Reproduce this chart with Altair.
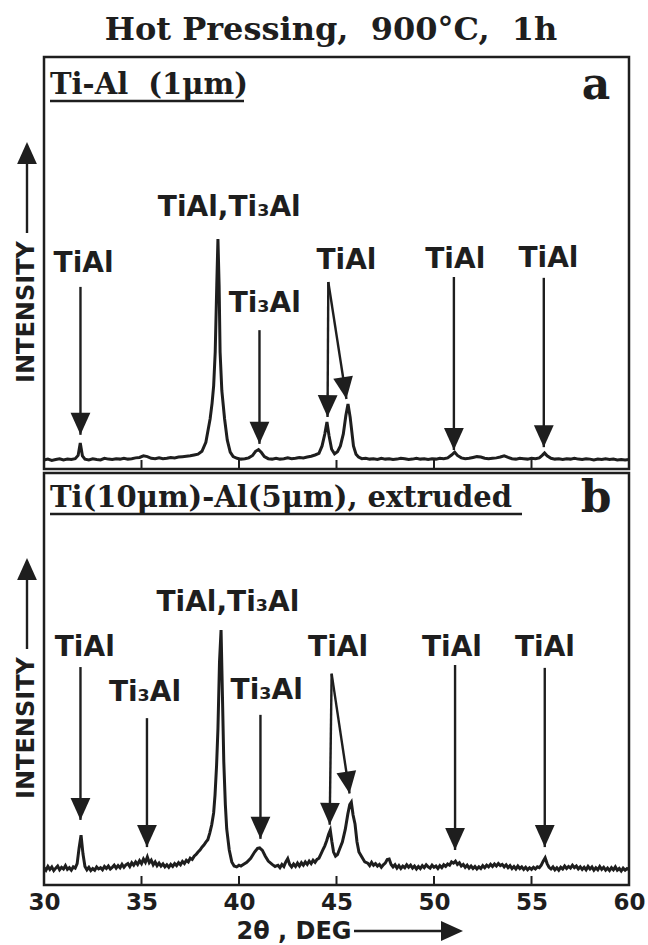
import math
import altair as alt
import pandas as pd

# ---------------- layout constants ----------------
W, H = 585, 412
INK = "#1e1e1e"
X_DOMAIN = [30, 60]
Y_DOMAIN = [0, 100]

# ---------------- data ----------------
tick_values = [35, 40, 45, 50, 55]
tick_labels = [30, 35, 40, 45, 50, 55, 60]

# panel a : Ti-Al (1um)  (2theta [deg], intensity [a.u.])
a_trace = [
    (30.0, 2.2), (30.2, 2.4), (30.4, 2.1), (30.6, 2.3), (30.8, 2.5), (31.0, 2.2),
    (31.2, 2.4), (31.4, 2.3), (31.6, 2.5), (31.75, 3.3), (31.86, 6.3), (31.97, 3.2),
    (32.1, 2.4), (32.3, 2.2), (32.5, 2.5), (32.7, 2.3), (32.9, 2.2), (33.1, 2.6),
    (33.3, 2.4), (33.5, 2.3), (33.7, 2.5), (33.9, 2.4), (34.1, 2.6), (34.3, 2.4),
    (34.5, 2.5), (34.7, 2.7), (34.9, 2.8), (35.1, 3.2), (35.3, 3.0), (35.5, 2.6),
    (35.7, 2.5), (35.9, 2.7), (36.1, 2.5), (36.3, 2.6), (36.5, 2.8), (36.7, 2.7),
    (36.9, 2.9), (37.1, 3.0), (37.3, 3.1), (37.5, 3.2), (37.7, 3.4), (37.9, 3.6),
    (38.1, 4.3), (38.3, 6.5), (38.52, 12.2), (38.62, 16.0), (38.7, 20.2),
    (38.78, 28.4), (38.86, 44.6), (38.92, 55.8), (38.98, 44.6), (39.03, 28.4),
    (39.12, 19.0), (39.26, 12.2), (39.4, 7.0), (39.55, 4.1), (39.7, 3.0),
    (39.9, 2.6), (40.1, 2.4), (40.3, 2.5), (40.5, 2.7), (40.7, 3.3), (40.85, 4.3),
    (41.0, 4.7), (41.15, 4.0), (41.3, 3.0), (41.5, 2.5), (41.7, 2.4), (41.9, 2.6),
    (42.1, 2.4), (42.3, 2.5), (42.5, 2.7), (42.7, 2.5), (42.9, 2.6), (43.1, 2.8),
    (43.3, 2.7), (43.5, 2.9), (43.7, 3.1), (43.9, 3.4), (44.1, 3.8), (44.26, 5.6),
    (44.4, 8.5), (44.51, 11.4), (44.62, 8.0), (44.75, 4.8), (44.9, 3.7), (45.05, 4.2),
    (45.2, 5.6), (45.35, 8.5), (45.48, 13.0), (45.59, 15.8), (45.7, 12.6), (45.87, 5.6),
    (46.0, 3.6), (46.13, 2.9), (46.3, 2.5), (46.5, 2.6), (46.7, 2.4), (46.9, 2.5),
    (47.1, 2.3), (47.3, 2.6), (47.5, 2.4), (47.7, 2.5), (47.9, 2.3), (48.1, 2.4),
    (48.3, 2.6), (48.5, 2.5), (48.7, 2.3), (48.9, 2.4), (49.1, 2.6), (49.3, 2.4),
    (49.5, 2.5), (49.7, 2.3), (49.9, 2.5), (50.1, 2.4), (50.3, 2.6), (50.5, 2.5),
    (50.7, 2.7), (50.9, 3.4), (51.06, 4.1), (51.2, 3.3), (51.4, 2.7), (51.6, 2.5),
    (51.8, 2.6), (52.0, 2.8), (52.2, 3.0), (52.4, 2.9), (52.6, 2.6), (52.8, 2.5),
    (53.0, 2.6), (53.2, 2.7), (53.4, 2.9), (53.6, 3.2), (53.8, 2.8), (54.0, 2.5),
    (54.2, 2.4), (54.4, 2.6), (54.6, 2.5), (54.8, 2.4), (55.0, 2.6), (55.2, 2.5),
    (55.4, 2.7), (55.55, 3.3), (55.67, 3.9), (55.8, 3.2), (56.0, 2.6), (56.2, 2.4),
    (56.4, 2.5), (56.6, 2.3), (56.8, 2.5), (57.0, 2.4), (57.2, 2.6), (57.4, 2.4),
    (57.6, 2.3), (57.8, 2.5), (58.0, 2.4), (58.2, 2.2), (58.4, 2.4), (58.6, 2.3),
    (58.8, 2.5), (59.0, 2.3), (59.2, 2.4), (59.4, 2.2), (59.6, 2.3), (59.8, 2.2),
    (60.0, 2.3),
]

# panel b : Ti(10um)-Al(5um), extruded
b_trace = [
    (30.0, 4.2), (30.1, 3.6), (30.2, 4.5), (30.3, 3.8), (30.4, 4.4), (30.5, 3.5),
    (30.6, 4.1), (30.7, 4.6), (30.8, 3.7), (30.9, 4.3), (31.0, 3.9), (31.1, 4.7),
    (31.2, 3.8), (31.3, 4.2), (31.4, 3.6), (31.5, 4.4), (31.6, 4.1), (31.7, 5.2),
    (31.8, 9.0), (31.9, 12.1), (32.0, 7.5), (32.1, 4.5), (32.2, 3.7), (32.3, 4.3),
    (32.4, 3.5), (32.5, 4.0), (32.6, 3.6), (32.7, 4.4), (32.8, 3.9), (32.9, 4.2),
    (33.0, 3.7), (33.1, 4.5), (33.2, 4.0), (33.3, 4.6), (33.4, 3.9), (33.5, 4.3),
    (33.6, 4.8), (33.7, 4.1), (33.8, 4.7), (33.9, 4.2), (34.0, 5.0), (34.1, 4.3),
    (34.2, 4.9), (34.3, 5.2), (34.4, 4.5), (34.5, 5.4), (34.6, 4.8), (34.7, 5.6),
    (34.8, 5.0), (34.9, 5.9), (35.0, 5.2), (35.1, 6.3), (35.2, 5.5), (35.3, 6.8),
    (35.4, 5.4), (35.5, 6.0), (35.6, 4.9), (35.7, 5.6), (35.8, 4.7), (35.9, 5.3),
    (36.0, 4.6), (36.1, 5.1), (36.2, 4.4), (36.3, 4.9), (36.4, 4.3), (36.5, 5.0),
    (36.6, 4.5), (36.7, 5.2), (36.8, 4.7), (36.9, 5.4), (37.0, 4.9), (37.1, 5.7),
    (37.2, 5.2), (37.3, 6.0), (37.4, 5.6), (37.5, 6.5), (37.6, 6.2), (37.7, 7.0),
    (37.8, 7.4), (37.9, 8.0), (38.0, 8.5), (38.1, 9.2), (38.2, 9.7), (38.3, 10.4),
    (38.4, 11.0), (38.5, 12.6), (38.6, 14.6), (38.7, 17.5), (38.77, 21.8),
    (38.85, 29.0), (38.92, 37.9), (39.0, 54.1), (39.08, 61.9), (39.15, 46.1),
    (39.22, 29.9), (39.3, 19.5), (39.37, 13.6), (39.5, 8.5), (39.63, 5.6),
    (39.75, 4.6), (39.88, 4.4), (40.0, 4.8), (40.1, 4.6), (40.2, 4.9), (40.4, 5.5),
    (40.6, 6.5), (40.8, 8.0), (40.95, 8.9), (41.06, 9.0), (41.2, 8.4), (41.35, 7.0),
    (41.5, 5.8), (41.7, 5.0), (41.85, 4.5), (42.0, 4.8), (42.1, 4.2), (42.2, 5.0),
    (42.3, 4.5), (42.4, 5.6), (42.5, 6.4), (42.6, 5.0), (42.7, 4.4), (42.8, 5.1),
    (42.9, 4.5), (43.0, 5.3), (43.1, 4.6), (43.2, 5.4), (43.3, 4.8), (43.4, 5.6),
    (43.5, 5.0), (43.6, 5.8), (43.7, 5.2), (43.8, 6.0), (43.9, 5.5), (44.0, 6.2),
    (44.1, 6.5), (44.2, 7.5), (44.3, 8.5), (44.4, 9.5), (44.5, 10.8), (44.6, 12.4),
    (44.68, 13.3), (44.76, 10.6), (44.85, 8.0), (44.95, 7.0), (45.05, 7.4),
    (45.15, 8.6), (45.3, 10.4), (45.45, 13.5), (45.58, 17.2), (45.68, 19.5),
    (45.76, 20.1), (45.85, 17.0), (45.95, 14.8), (46.05, 10.5), (46.15, 8.0),
    (46.3, 6.8), (46.45, 5.6), (46.6, 5.3), (46.7, 4.7), (46.8, 5.5), (46.9, 4.8),
    (47.0, 5.2), (47.1, 4.6), (47.2, 5.0), (47.3, 4.3), (47.4, 4.9), (47.5, 5.3),
    (47.6, 6.2), (47.7, 6.3), (47.8, 5.0), (47.9, 4.4), (48.0, 4.9), (48.1, 4.1),
    (48.2, 4.7), (48.3, 4.0), (48.4, 4.6), (48.5, 4.2), (48.6, 4.9), (48.7, 4.3),
    (48.8, 4.8), (48.9, 4.1), (49.0, 4.6), (49.1, 3.9), (49.2, 4.5), (49.3, 4.0),
    (49.4, 4.7), (49.5, 4.2), (49.6, 4.9), (49.7, 4.4), (49.8, 4.1), (49.9, 4.8),
    (50.0, 4.3), (50.1, 4.6), (50.2, 4.0), (50.3, 4.7), (50.4, 4.2), (50.5, 4.9),
    (50.6, 4.5), (50.7, 5.1), (50.8, 4.8), (50.9, 5.6), (51.0, 5.3), (51.1, 5.8),
    (51.2, 5.0), (51.3, 5.4), (51.4, 4.6), (51.5, 5.0), (51.6, 4.3), (51.7, 4.8),
    (51.8, 4.1), (51.9, 4.6), (52.0, 4.0), (52.1, 4.5), (52.2, 3.9), (52.3, 4.4),
    (52.4, 4.0), (52.5, 4.7), (52.6, 4.2), (52.7, 4.8), (52.8, 4.4), (52.9, 5.0),
    (53.0, 4.5), (53.1, 5.1), (53.2, 4.6), (53.3, 5.2), (53.4, 4.7), (53.5, 5.0),
    (53.6, 4.4), (53.7, 4.9), (53.8, 4.2), (53.9, 4.7), (54.0, 4.0), (54.1, 4.5),
    (54.2, 3.9), (54.3, 4.6), (54.4, 4.0), (54.5, 4.4), (54.6, 3.8), (54.7, 4.3),
    (54.8, 3.7), (54.9, 4.2), (55.0, 3.8), (55.1, 4.3), (55.2, 3.9), (55.3, 4.4),
    (55.4, 4.2), (55.5, 4.8), (55.6, 5.8), (55.7, 6.6), (55.8, 5.2), (55.9, 4.3),
    (56.0, 3.9), (56.1, 4.4), (56.2, 3.7), (56.3, 4.2), (56.4, 3.6), (56.5, 4.3),
    (56.6, 3.9), (56.7, 4.6), (56.8, 4.0), (56.9, 4.5), (57.0, 4.1), (57.1, 4.8),
    (57.2, 4.2), (57.3, 4.6), (57.4, 3.9), (57.5, 4.4), (57.6, 3.8), (57.7, 4.3),
    (57.8, 3.7), (57.9, 4.5), (58.0, 3.9), (58.1, 4.4), (58.2, 3.6), (58.3, 4.2),
    (58.4, 3.7), (58.5, 4.5), (58.6, 3.8), (58.7, 4.3), (58.8, 3.6), (58.9, 4.1),
    (59.0, 3.5), (59.1, 4.2), (59.2, 3.7), (59.3, 4.4), (59.4, 3.6), (59.5, 4.0),
    (59.6, 3.4), (59.7, 4.1), (59.8, 3.6), (59.9, 4.0), (60.0, 3.7),
]

# peak labels: text, x (deg), y (a.u.)
a_label_text = ["TiAl", "TiAl,Ti\u2083Al", "Ti\u2083Al", "TiAl", "TiAl", "TiAl"]
a_label_x = [32.03, 39.5, 41.32, 45.51, 51.09, 55.87]
a_label_y = [49.8, 63.3, 40.0, 50.5, 50.8, 51.0]

b_label_text = ["TiAl", "Ti\u2083Al", "TiAl,Ti\u2083Al", "Ti\u2083Al", "TiAl", "TiAl", "TiAl"]
b_label_x = [32.09, 35.18, 39.43, 41.42, 45.08, 50.92, 55.69]
b_label_y = [57.5, 46.6, 68.4, 47.1, 57.5, 57.5, 57.5]

# arrows: start (x, y) -> tip (x, y)
a_arrow_x0 = [31.87, 41.05, 44.58, 44.58, 51.02, 55.63]
a_arrow_y0 = [44.2, 33.7, 45.4, 45.4, 46.6, 46.4]
a_arrow_x1 = [31.87, 41.05, 44.54, 45.51, 51.02, 55.63]
a_arrow_y1 = [8.3, 6.1, 12.6, 17.0, 4.6, 5.3]

b_arrow_x0 = [31.87, 35.28, 41.10, 44.75, 44.75, 51.08, 55.68]
b_arrow_y0 = [52.9, 40.5, 41.3, 51.3, 51.3, 53.4, 52.7]
b_arrow_x1 = [31.87, 35.28, 41.10, 44.65, 45.67, 51.08, 55.68]
b_arrow_y1 = [15.8, 9.2, 11.2, 14.6, 22.2, 8.5, 9.2]

a_title = "Ti-Al\u00a0 (1\u03bcm)"
b_title = "Ti(10\u03bcm)-Al(5\u03bcm), extruded"
main_title = "Hot Pressing,\u00a0 900\u00b0C,\u00a0 1h"

# ---------------- helpers ----------------
HEAD = "M-0.45,-1L0,0L0.45,-1Z"   # arrow head, tip at origin, pointing down
HEAD_SIZE = 1936

xs = alt.Scale(domain=X_DOMAIN, nice=False, zero=False)
ys = alt.Scale(domain=Y_DOMAIN, nice=False, zero=False)

one = pd.DataFrame({"k": [0]})


def arrows_df(x0, y0, x1, y1):
    rows = []
    for a, b, c, d in zip(x0, y0, x1, y1):
        dxp = (c - a) * W / (X_DOMAIN[1] - X_DOMAIN[0])
        dyp = -(d - b) * H / (Y_DOMAIN[1] - Y_DOMAIN[0])
        ang = math.degrees(math.atan2(-dxp, dyp)) % 360
        rows.append({"x0": a, "y0": b, "x1": c, "y1": d, "ang": ang})
    return pd.DataFrame(rows)


def panel(trace, ltext, lx, ly, ax0, ay0, ax1, ay1, ptitle, letter,
          ul_x2, ul_y, t_base, letter_base, show_axis):
    xaxis = (alt.Axis(values=tick_labels, ticks=False, tickSize=0, domain=False,
                      grid=False, labelFont="DejaVu Sans", labelFontWeight="bold",
                      labelFontSize=23, labelColor=INK, labelPadding=6,
                      labelFlush=False, title=None)
             if show_axis else None)

    tdf = pd.DataFrame(trace, columns=["two_theta", "intensity"])
    line = alt.Chart(tdf).mark_line(color=INK, strokeWidth=3).encode(
        x=alt.X("two_theta:Q", scale=xs, axis=xaxis),
        y=alt.Y("intensity:Q", scale=ys, axis=None),
    )

    tick_df = pd.DataFrame({"two_theta": tick_values})
    tks = alt.Chart(tick_df).mark_rule(color=INK, strokeWidth=2).encode(
        x=alt.X("two_theta:Q", scale=xs, axis=xaxis),
        y=alt.value(H - 9), y2=alt.value(H),
    )

    adf = arrows_df(ax0, ay0, ax1, ay1)
    shafts = alt.Chart(adf).mark_rule(color=INK, strokeWidth=2.4).encode(
        x=alt.X("x0:Q", scale=xs, axis=xaxis), y=alt.Y("y0:Q", scale=ys, axis=None),
        x2="x1:Q", y2="y1:Q",
    )
    heads = alt.Chart(adf).mark_point(shape=HEAD, size=HEAD_SIZE, filled=True,
                                      color=INK, opacity=1, strokeWidth=0).encode(
        x=alt.X("x1:Q", scale=xs, axis=xaxis), y=alt.Y("y1:Q", scale=ys, axis=None),
        angle=alt.Angle("ang:Q", scale=None),
    )

    ldf = pd.DataFrame({"t": ltext, "x": lx, "y": ly})
    labels = alt.Chart(ldf).mark_text(font="DejaVu Sans", fontWeight="bold",
                                      fontSize=28, color=INK, align="center",
                                      baseline="middle").encode(
        x=alt.X("x:Q", scale=xs, axis=xaxis), y=alt.Y("y:Q", scale=ys, axis=None),
        text="t:N",
    )

    ptxt = alt.Chart(one).mark_text(text=ptitle, font="DejaVu Serif",
                                    fontWeight="bold", fontSize=29, color=INK,
                                    align="left", baseline="alphabetic").encode(
        x=alt.value(6), y=alt.value(t_base))
    uline = alt.Chart(one).mark_rule(color=INK, strokeWidth=2.5).encode(
        x=alt.value(6), x2=alt.value(ul_x2), y=alt.value(ul_y))
    ltr = alt.Chart(one).mark_text(text=letter, font="DejaVu Serif",
                                   fontWeight="bold", fontSize=44, color=INK,
                                   align="center", baseline="alphabetic").encode(
        x=alt.value(552), y=alt.value(letter_base))

    ylab = alt.Chart(one).mark_text(text="INTENSITY", font="DejaVu Sans",
                                    fontWeight="bold", fontSize=24, color=INK,
                                    angle=270, align="center",
                                    baseline="middle").encode(
        x=alt.value(-17), y=alt.value(255))
    yshaft = alt.Chart(one).mark_rule(color=INK, strokeWidth=2.4).encode(
        x=alt.value(-17), y=alt.value(100), y2=alt.value(176))
    yhead = alt.Chart(one).mark_point(shape=HEAD, size=HEAD_SIZE, filled=True,
                                      color=INK, opacity=1, strokeWidth=0).encode(
        x=alt.value(-17), y=alt.value(85), angle=alt.value(180))

    layers = [line, tks, shafts, heads, labels, ptxt, uline, ltr, ylab, yshaft, yhead]
    return layers


layers_a = panel(a_trace, a_label_text, a_label_x, a_label_y,
                 a_arrow_x0, a_arrow_y0, a_arrow_x1, a_arrow_y1,
                 a_title, "a", 200, 44, 37, 42, False)

# figure title and a (white) bounds anchor at the figure's top-left corner
title_mark = alt.Chart(one).mark_text(text=main_title, font="DejaVu Serif",
                                      fontWeight="bold", fontSize=32, color=INK,
                                      align="center", baseline="alphabetic").encode(
    x=alt.value(287), y=alt.value(-17))
anchor = alt.Chart(one).mark_rule(color="white", strokeWidth=1).encode(
    x=alt.value(-41.5), x2=alt.value(-40.5), y=alt.value(-54.5), y2=alt.value(-54.5))
layers_a += [title_mark, anchor]

layers_b = panel(b_trace, b_label_text, b_label_x, b_label_y,
                 b_arrow_x0, b_arrow_y0, b_arrow_x1, b_arrow_y1,
                 b_title, "b", 478, 41, 34, 39, True)

xlab = alt.Chart(one).mark_text(text="2\u03b8 , DEG", font="DejaVu Sans",
                                fontWeight="bold", fontSize=24, color=INK,
                                align="center", baseline="alphabetic").encode(
    x=alt.value(250), y=alt.value(466))
xshaft = alt.Chart(one).mark_rule(color=INK, strokeWidth=2.4).encode(
    x=alt.value(310), x2=alt.value(405), y=alt.value(458))
xhead = alt.Chart(one).mark_point(shape=HEAD, size=HEAD_SIZE, filled=True,
                                  color=INK, opacity=1, strokeWidth=0).encode(
    x=alt.value(419), y=alt.value(458), angle=alt.value(270))
layers_b += [xlab, xshaft, xhead]

panel_a = alt.layer(*layers_a).properties(width=W, height=H)
panel_b = alt.layer(*layers_b).properties(width=W, height=H)

chart = alt.vconcat(panel_a, panel_b, spacing=4, bounds="flush").properties(
    padding={"left": 0, "top": 0, "right": 0, "bottom": 2},
    background="white",
).configure_view(stroke=INK, strokeWidth=2.5)

chart.save("out.html", embed_options={"renderer": "svg", "actions": False})
